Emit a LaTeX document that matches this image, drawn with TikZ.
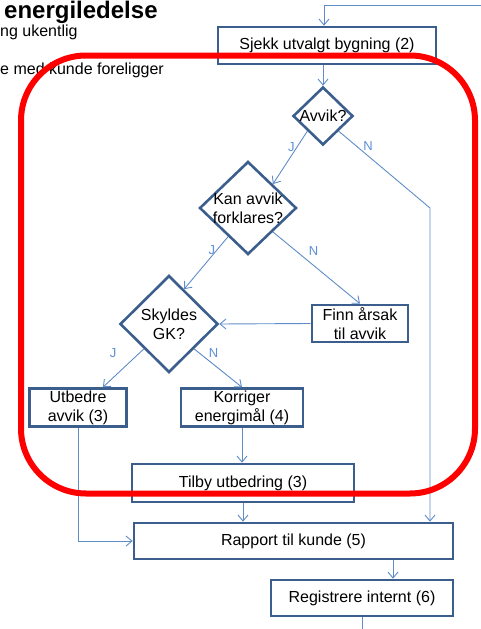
\documentclass[tikz,border=0pt]{standalone}
\usepackage{fontspec}
\setmainfont{Liberation Sans}
\usetikzlibrary{arrows.meta,positioning,calc,shapes.geometric}
\definecolor{boxline}{HTML}{3B5E8C}
\definecolor{flowline}{HTML}{5F8CC8}
\definecolor{yntext}{HTML}{5B8FD6}
\definecolor{scopered}{HTML}{FF0000}

\begin{document}
\begin{tikzpicture}[
  x=1pt, y=-1pt,
  font=\fontsize{16}{19}\selectfont,
  box/.style    = {draw=boxline, line width=2.6pt, fill=white, align=center,
                   inner sep=2pt, minimum height=37pt},
  decide/.style = {diamond, draw=boxline, line width=2.6pt, fill=white,
                   align=center, inner sep=-2pt},
  ln/.style     = {-{Straight Barb[length=6pt,width=10pt]}, draw=flowline, line width=0.9pt},
  yn/.style     = {font=\fontsize{13}{15}\selectfont, text=yntext, inner sep=1pt},
  head/.style   = {anchor=base west, inner sep=0pt},
]
\useasboundingbox (0,0) rectangle (481,629);

% --- heading, at the page edge ---------------------------------------------------------------------
\node[head, font=\fontsize{24}{26}\selectfont\bfseries] (title) at (4,18) {energiledelse};
\node[head] (note1) at (0,36) {ng ukentlig};
\node[head] (note2) at (0,74) {e med kunde foreligger};

% --- the steps and the questions -------------------------------------------------------------------
\node[box, minimum width=218pt] (sjekk) at (327,45.5) {Sjekk utvalgt bygning (2)};
\node[decide, minimum width=60pt, minimum height=58pt] (avvik) at (323,116) {Avvik?};
\node[decide, minimum width=97pt, minimum height=92pt] (kan) at (248,208) {Kan avvik\\forklares?};
\node[decide, minimum width=98pt, minimum height=97pt] (skyldes) at (169,324) {Skyldes\\GK?};
\node[box, minimum width=96pt]  (finn)     at (360,323.5) {Finn årsak\\til avvik};
\node[box, minimum width=97pt]  (utbedre)  at (78,407.5)  {Utbedre\\avvik (3)};
\node[box, minimum width=122pt] (korriger) at (242,407.5) {Korriger\\energimål (4)};
\node[box, minimum width=222pt, minimum height=38pt] (tilby)      at (243,483)   {Tilby utbedring (3)};
\node[box, minimum width=319pt, minimum height=36pt] (rapport)    at (293.5,541) {Rapport til kunde (5)};
\node[box, minimum width=182pt, minimum height=36pt] (registrere) at (362,598)   {Registrere internt (6)};

\coordinate (topin)   at (481,5);
\coordinate (topturn) at (324,5);
\coordinate (nturn)   at (430,208);
\coordinate (regin)   at ([xshift=31pt]registrere.north);
\coordinate (regout)  at (362,629);

% --- in from the top, and down the questions -------------------------------------------------------
\draw[ln] (topin) -- (topturn) -- (topturn |- sjekk.north);
\draw[ln] (sjekk.south -| avvik.north) -- (avvik.north);
\draw[ln] (avvik.south west) -- node[yn, pos=0.3, left=1pt] {J} (kan.north east);
\draw[ln] (avvik.south east) -- node[yn, pos=0.2, right=5pt] {N} (nturn) -- (nturn |- rapport.north);
\draw[ln] ($(kan.west)!0.6!(kan.south)$) -- node[yn, pos=0.25, left=0.5pt] {J}
          ($(skyldes.north)!0.3!(skyldes.east)$);
\draw[ln] (kan.south east) -- node[yn, pos=0.26, right=12pt] {N} (finn.north);
\draw[ln] (finn.west) -- (skyldes.east);
\draw[ln] (skyldes.south west) -- node[yn, pos=0.1, left=22pt] {J}
          ($(utbedre.north)!0.5!(utbedre.north east)$);
\draw[ln] (skyldes.south east) -- node[yn, pos=0.12, right=7.5pt] {N} (korriger.north);

% --- on to the report ------------------------------------------------------------------------------
\draw[ln] (korriger.south) -- (korriger.south |- tilby.north);
\draw[ln] (tilby.south) -- (tilby.south |- rapport.north);
\draw[ln] (utbedre.south) |- (rapport.west);
\draw[ln] (regin |- rapport.south) -- (regin);
\draw[draw=flowline, line width=0.9pt] (registrere.south) -- (regout);

% --- the red ring round the middle -----------------------------------------------------------------
\draw[draw=scopered, line width=6pt, rounded corners=65pt] (21,55.5) rectangle (475,493.5);

\end{tikzpicture}
\end{document}
